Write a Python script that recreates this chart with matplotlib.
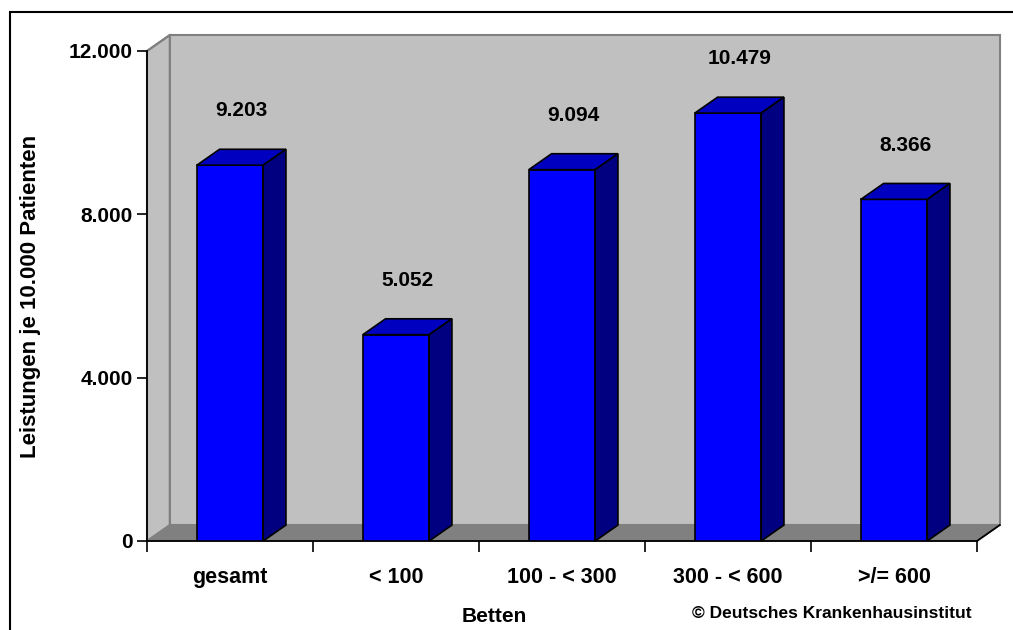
import matplotlib
matplotlib.use("Agg")
import matplotlib.pyplot as plt
from matplotlib.patches import Polygon, Rectangle

plt.rcParams['font.family'] = ['Liberation Sans', 'DejaVu Sans']

categories = ["gesamt", "< 100", "100 - < 300", "300 - < 600", ">/= 600"]
values = [9203, 5052, 9094, 10479, 8366]
value_labels = ["9.203", "5.052", "9.094", "10.479", "8.366"]
y_ticks = [0, 4000, 8000, 12000]
y_tick_labels = ["0", "4.000", "8.000", "12.000"]

W, H = 1013, 630
fig = plt.figure(figsize=(W / 100, H / 100), dpi=100)
fig.patch.set_facecolor("white")

# outer frame of the chart area
fig.add_artist(Rectangle((10 / W, -0.1), 1.1, 1 - 12 / H + 0.1, transform=fig.transFigure,
                         fill=False, edgecolor="black", linewidth=1.5))

ax = fig.add_axes([147 / W, 89 / H, 830 / W, 490 / H])
ax.set_xlim(-0.5, len(categories) - 0.5)
ax.set_ylim(0, 12000)
ax.patch.set_visible(False)

DX = 0.137   # depth offset, category units
DY = 390     # depth offset, value units
x0, x1 = -0.5, len(categories) - 0.5
ymax = 12000

# back wall, side wall and floor
ax.add_patch(Rectangle((x0 + DX, DY), x1 - x0, ymax, facecolor="#C0C0C0",
                       edgecolor="#808080", linewidth=1.5, zorder=0, clip_on=False))
ax.add_patch(Polygon([(x0, 0), (x0 + DX, DY), (x0 + DX, ymax + DY), (x0, ymax)],
                     closed=True, facecolor="#C0C0C0", edgecolor="#808080",
                     linewidth=1.5, zorder=0.5, clip_on=False))
ax.add_patch(Polygon([(x0, 0), (x1, 0), (x1 + DX, DY), (x0 + DX, DY)],
                     closed=True, facecolor="#808080", edgecolor="#808080",
                     linewidth=1, zorder=1, clip_on=False))
ax.plot([x0, x0 + DX], [ymax, ymax + DY], color="#808080", lw=1.5, zorder=1, clip_on=False)
ax.plot([x1, x1 + DX], [0, DY], color="black", lw=1.3, zorder=1.2, clip_on=False)

# columns: front faces via bar, then top and side faces
bw = 0.4
xs = list(range(len(categories)))
ax.bar(xs, values, width=bw, color="#0000FF", edgecolor="black", linewidth=1.2, zorder=3)
for x, v, lab in zip(xs, values, value_labels):
    l, r = x - bw / 2, x + bw / 2
    ax.add_patch(Polygon([(l, v), (r, v), (r + DX, v + DY), (l + DX, v + DY)], closed=True,
                         facecolor="#0000C0", edgecolor="black", linewidth=1.2, zorder=3,
                         clip_on=False))
    ax.add_patch(Polygon([(r, 0), (r + DX, DY), (r + DX, v + DY), (r, v)], closed=True,
                         facecolor="#000080", edgecolor="black", linewidth=1.2, zorder=3,
                         clip_on=False))
    ax.text(x + DX / 2, v + 1330, lab, ha="center", va="center", fontsize=15,
            fontweight="bold", color="black", zorder=4)

# axes lines and ticks
for s in ("top", "right"):
    ax.spines[s].set_visible(False)
for s in ("left", "bottom"):
    ax.spines[s].set_linewidth(1.3)
    ax.spines[s].set_zorder(2)

ax.set_yticks(y_ticks)
ax.set_yticklabels(y_tick_labels, fontsize=15, fontweight="bold")
ax.tick_params(axis="y", direction="out", length=7, width=1.2, pad=3)

ax.set_xticks(xs)
ax.set_xticklabels(categories, fontsize=15.5, fontweight="bold")
ax.set_xticks([i - 0.5 for i in range(len(categories) + 1)], minor=True)
ax.tick_params(axis="x", which="major", length=0, pad=19)
ax.tick_params(axis="x", which="minor", direction="out", length=8, width=1.2)

fig.text(31 / W, 1 - 296 / H, "Leistungen je 10.000 Patienten", rotation=90,
         ha="center", va="center", fontsize=16, fontweight="bold")
fig.text(494 / W, 1 - 617 / H, "Betten", ha="center", va="center",
         fontsize=15, fontweight="bold")
fig.text(692 / W, 1 - 613 / H, "© Deutsches Krankenhausinstitut", ha="left", va="center",
         fontsize=12.5, fontweight="bold")

fig.savefig("out.png", dpi=100, facecolor="white")
